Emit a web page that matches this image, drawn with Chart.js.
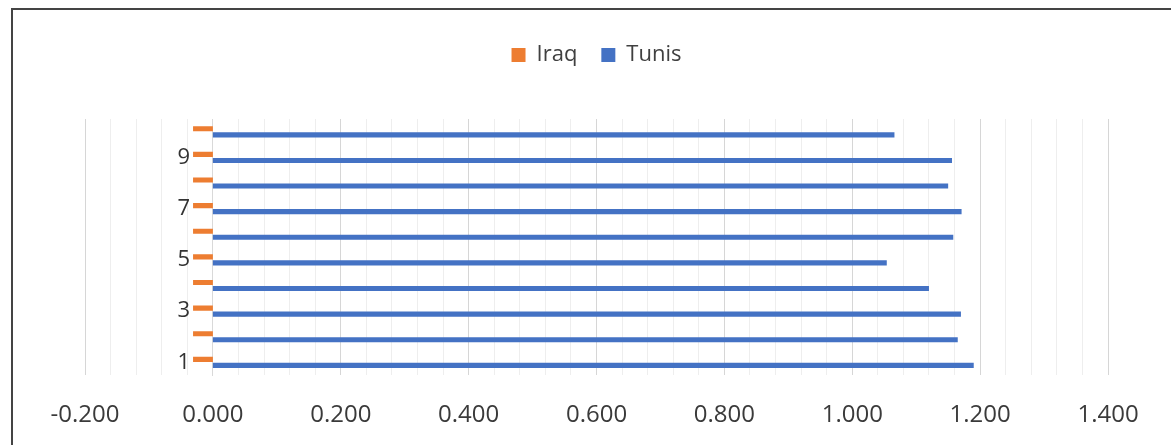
<!DOCTYPE html>
<html>
<head>
<meta charset="utf-8">
<script src="https://cdn.jsdelivr.net/npm/chart.js@4"></script>
<style>
  html, body { margin: 0; padding: 0; background: #fff; }
  #wrap { position: relative; width: 1171px; height: 445px; }
  #frame {
    position: absolute; left: 11px; top: 8px; right: 0; bottom: 0;
    border-left: 2px solid #444; border-top: 2px solid #444;
    pointer-events: none;
  }
</style>
</head>
<body>
<div id="wrap">
  <canvas id="chart" width="1171" height="445"></canvas>
  <div id="frame"></div>
</div>
<script>
// categories, bottom to top
const categories = ['1', '2', '3', '4', '5', '6', '7', '8', '9', '10'];
const iraqValues = [-0.031, -0.031, -0.031, -0.031, -0.031, -0.031, -0.031, -0.031, -0.031, -0.031];
const tunisValues = [1.190, 1.165, 1.170, 1.120, 1.054, 1.158, 1.171, 1.150, 1.156, 1.066];
const xMin = -0.2;
const xMax = 1.4;

// make the legend block taller so the plot starts lower
const legendSpacer = {
    id: 'legendSpacer',
    beforeInit(chart) {
        const origFit = chart.legend.fit;
        chart.legend.fit = function () {
            origFit.call(this);
            this.height += 43;
        };
    }
};

function isMajor(v) {
    const r = v / 0.2;
    return Math.abs(r - Math.round(r)) < 1e-6;
}

function fmt(v) {
    if (Math.abs(v) < 1e-9) v = 0;
    return v.toFixed(3);
}

new Chart(document.getElementById('chart'), {
    type: 'bar',
    data: {
        labels: categories,
        datasets: [
            {
                label: 'Iraq',
                data: iraqValues,
                backgroundColor: '#ED7D31',
                borderWidth: 0,
                categoryPercentage: 0.47,
                barPercentage: 0.85
            },
            {
                label: 'Tunis',
                data: tunisValues,
                backgroundColor: '#4472C4',
                borderWidth: 0,
                categoryPercentage: 0.47,
                barPercentage: 0.85
            }
        ]
    },
    options: {
        indexAxis: 'y',
        responsive: false,
        animation: false,
        layout: {
            padding: { left: 85, right: 63, top: 20, bottom: 15 }
        },
        plugins: {
            legend: {
                position: 'top',
                labels: {
                    boxWidth: 14,
                    boxHeight: 14,
                    padding: 24,
                    color: '#404040',
                    font: { family: 'Open Sans', size: 22 }
                }
            },
            tooltip: { enabled: false }
        },
        scales: {
            x: {
                min: xMin,
                max: xMax,
                border: { display: false },
                grid: {
                    drawTicks: true,
                    tickLength: 26,
                    tickColor: 'rgba(0,0,0,0)',
                    color: ctx => isMajor(ctx.tick.value) ? '#d6d6d6' : '#eeeeee'
                },
                ticks: {
                    stepSize: 0.04,
                    autoSkip: false,
                    maxRotation: 0,
                    minRotation: 0,
                    padding: 0,
                    color: '#3a3a3a',
                    font: { family: 'Open Sans', size: 24 },
                    callback: v => isMajor(v) ? fmt(v) : ''
                }
            },
            y: {
                reverse: true,
                position: { x: 0 },
                border: { display: true, color: '#d9d9d9' },
                grid: { display: false },
                ticks: {
                    autoSkip: false,
                    color: '#333333',
                    font: { family: 'Open Sans', size: 22 },
                    // trailing spaces keep the label clear of the Iraq bars
                    callback: (v, i) => i % 2 === 0 ? categories[i] + '    ' : ''
                }
            }
        }
    },
    plugins: [legendSpacer]
});
</script>
</body>
</html>
